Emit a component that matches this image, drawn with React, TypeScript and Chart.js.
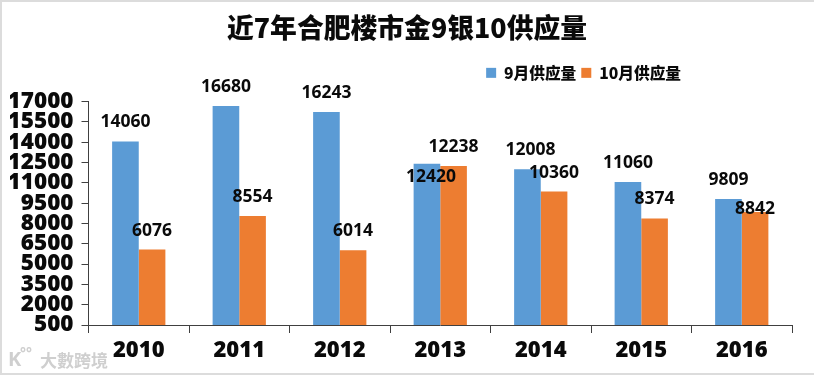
import React, { useEffect, useRef } from "react";
import { Chart, registerables } from "chart.js";

Chart.register(...registerables);

const years = ["2010", "2011", "2012", "2013", "2014", "2015", "2016"];
const sept = [14060, 16680, 16243, 12420, 12008, 11060, 9809];
const oct = [6076, 8554, 6014, 12238, 10360, 8374, 8842];

const TITLE = "近7年合肥楼市金9银10供应量";
const WATERMARK = "大數跨境";
const FONT = '"Noto Sans CJK SC", "Noto Sans", sans-serif';
const TICK_FONT = `"Noto Sans", ${FONT}`;

const valueLabels = {
  id: "valueLabels",
  afterDatasetsDraw(chart: any) {
    const { ctx } = chart;
    ctx.save();
    ctx.font = `bold 17.5px ${TICK_FONT}`;
    ctx.fillStyle = "#0a0a0a";
    ctx.textAlign = "center";
    ctx.textBaseline = "middle";
    chart.data.datasets.forEach((ds: any, d: number) => {
      chart.getDatasetMeta(d).data.forEach((bar: any, i: number) => {
        let dx = 0;
        let dy = -19;
        if (d === 0 && i === 3) { dx = 4; dy = 13; }
        if (d === 0 && i === 4) dx = 3;
        if (d === 1 && i === 6) dy = -3;
        ctx.fillText(String(ds.data[i]), bar.x + dx, bar.y + dy);
      });
    });
    ctx.restore();
  },
};

const blockPlace = {
  id: "blockPlace",
  afterLayout(chart: any) {
    chart.legend.right = 684;
    chart.legend.top = 58;
    chart.legend.bottom = 84;
    chart.titleBlock.left = 0;
    chart.titleBlock.right = 810;
  },
};

const watermark = {
  id: "watermark",
  afterDraw(chart: any) {
    const { ctx } = chart;
    ctx.save();
    ctx.font = `bold 17px ${FONT}`;
    ctx.fillStyle = "#cfcfcf";
    ctx.textBaseline = "middle";
    ctx.fillText(WATERMARK, 38, 359);
    ctx.font = "bold 20px 'Noto Sans'";
    ctx.fillText("K", 6, 358);
    ctx.font = "bold 14px 'Noto Sans'";
    ctx.fillText("°°", 18, 352);
    ctx.restore();
  },
};

export default function App() {
  const ref = useRef<HTMLCanvasElement>(null);
  useEffect(() => {
    const chart = new Chart(ref.current as HTMLCanvasElement, {
      type: "bar",
      data: {
        labels: years,
        datasets: [
          { label: "9月供应量", data: sept, backgroundColor: "#5b9bd5", borderWidth: 0 },
          { label: "10月供应量", data: oct, backgroundColor: "#ed7d31", borderWidth: 0 },
        ],
      },
      options: {
        responsive: false,
        animation: false,
        layout: { padding: { left: 8, right: 22, top: 0, bottom: 0 } },
        datasets: { bar: { barPercentage: 1, categoryPercentage: 0.53 } },
        plugins: {
          title: {
            display: true,
            text: TITLE,
            color: "#0a0a0a",
            font: { family: FONT, size: 26.8, weight: "900" },
            padding: { top: 10, bottom: 26.8 },
          },
          legend: {
            position: "top",
            align: "end",
            labels: {
              boxWidth: 10,
              boxHeight: 10,
              padding: 5,
              color: "#0a0a0a",
              font: { family: FONT, size: 15.7, weight: "900" },
            },
          },
          tooltip: { enabled: false },
        },
        scales: {
          x: {
            afterFit(scale: any) { scale.height = 48; },
            border: { color: "#404040", width: 1 },
            grid: { drawOnChartArea: false, color: "#404040", tickLength: 8, offset: true },
            ticks: {
              color: "#0a0a0a",
              padding: 5,
              maxRotation: 0,
              font: { family: TICK_FONT, size: 22, weight: "900" },
            },
          },
          y: {
            min: 500,
            max: 17000,
            afterFit(scale: any) { scale.width = 78.5; },
            border: { color: "#404040", width: 1 },
            grid: { drawOnChartArea: false, color: "#404040", tickLength: 7 },
            ticks: {
              stepSize: 1500,
              autoSkip: false,
              color: "#0a0a0a",
              padding: 8,
              callback: (v: any) => String(v),
              font: { family: TICK_FONT, size: 22.5, weight: "900" },
            },
          },
        },
      },
      plugins: [valueLabels, blockPlace, watermark],
    } as any);
    return () => chart.destroy();
  }, []);
  return (
    <div style={{ position: "absolute", left: 0, top: 0, width: 814, height: 375, background: "#fff", boxSizing: "border-box", borderTop: "2px solid #dcdcdc", borderLeft: "2px solid #dcdcdc", borderBottom: "2px solid #dcdcdc", overflow: "hidden" }}>
      <canvas ref={ref} width={812} height={371} style={{ display: "block", width: 812, height: 371 }} />
    </div>
  );
}
